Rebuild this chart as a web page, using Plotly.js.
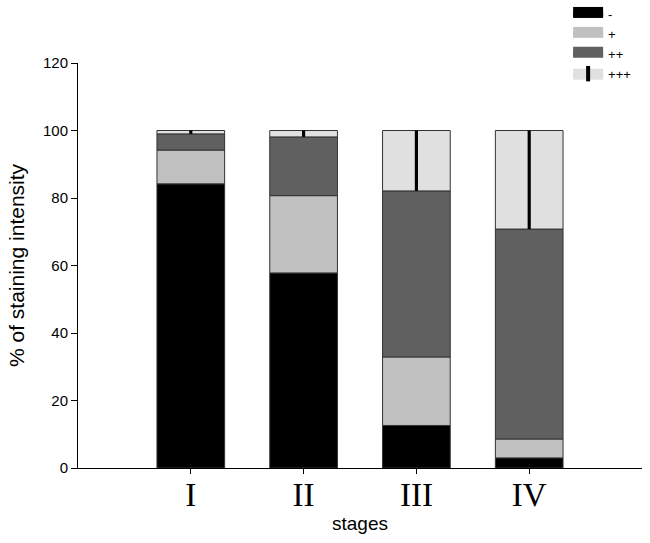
<!DOCTYPE html>
<html>
<head>
<meta charset="utf-8">
<script src="https://cdn.plot.ly/plotly-3.0.1.min.js"></script>
<style>html,body{margin:0;padding:0;background:#fff;}#chart{width:650px;height:543px;}</style>
</head>
<body>
<div id="chart"></div>
<script>
// Data
var stages = ["I", "II", "III", "IV"];
var neg   = [84.2, 57.8, 12.6, 3.0];   // "-"
var plus1 = [10.0, 22.9, 20.3, 5.6];   // "+"
var plus2 = [4.8, 17.4, 49.2, 62.2];   // "++"
var plus3 = [1.0, 1.9, 17.9, 29.2];    // "+++"
var seriesNames = ["-", "+", "++", "+++"];
var seriesColors = ["#000000", "#c0c0c0", "#606060", "#e0e0e0"];

var series = [neg, plus1, plus2, plus3];
var xIdx = stages.map(function (s, i) { return i; });
var bases = [];
var running = stages.map(function () { return 0; });
series.forEach(function (vals) {
  bases.push(running.slice());
  running = running.map(function (r, i) { return r + vals[i]; });
});

var traces = [];
series.forEach(function (vals, k) {
  traces.push({
    type: "bar", x: xIdx, y: vals, base: bases[k], width: 0.6,
    name: seriesNames[k], showlegend: false,
    marker: { color: seriesColors[k], line: { color: "#333333", width: 1 } },
    hoverinfo: "y"
  });
});
// vertical hatch line inside the "+++" segment
traces.push({
  type: "bar", x: xIdx, y: plus3, base: bases[3], width: 0.028,
  showlegend: false, marker: { color: "#000000", line: { width: 0 } }, hoverinfo: "skip"
});
// legend proxies
series.forEach(function (vals, k) {
  traces.push({
    type: "scatter", x: [null], y: [null], name: seriesNames[k],
    mode: k === 3 ? "lines+markers" : "lines", fill: "toself", fillcolor: seriesColors[k],
    marker: { symbol: "line-ns", size: 11, line: { color: "#000", width: 4 }, color: "#000" },
    line: { width: 10, color: seriesColors[k] }
  });
});

var layout = {
  width: 650, height: 543,
  margin: { l: 78, r: 8, t: 63, b: 75, autoexpand: false },
  paper_bgcolor: "#fff", plot_bgcolor: "#fff",
  barmode: "overlay",
  font: { family: "Liberation Sans, Arial, sans-serif", color: "#000" },
  showlegend: true,
  legend: {
    x: 0.869, xanchor: "left", y: 1.158, yanchor: "top",
    font: { size: 13, color: "#000", family: "Liberation Sans, Arial, sans-serif" },
    bgcolor: "rgba(0,0,0,0)", tracegroupgap: 0, itemwidth: 30
  },
  xaxis: {
    range: [-1, 4], tickmode: "array", tickvals: xIdx, ticktext: stages,
    showline: true, linecolor: "#000", linewidth: 1,
    ticks: "outside", ticklen: 5, tickcolor: "#000",
    showgrid: false, zeroline: false,
    tickfont: { family: "Liberation Serif, Times New Roman, serif", size: 33 },
    ticklabelstandoff: -8,
    title: { text: "stages", font: { size: 19 }, standoff: 5 },
    automargin: false
  },
  yaxis: {
    range: [0, 120], dtick: 20,
    showline: true, linecolor: "#000", linewidth: 1,
    ticks: "outside", ticklen: 6, tickcolor: "#000",
    showgrid: false, zeroline: false,
    tickfont: { size: 15 },
    title: { text: "% of staining intensity", font: { size: 21 }, standoff: 12 },
    automargin: false
  }
};

Plotly.newPlot("chart", traces, layout, { displayModeBar: false, staticPlot: true });
</script>
</body>
</html>
